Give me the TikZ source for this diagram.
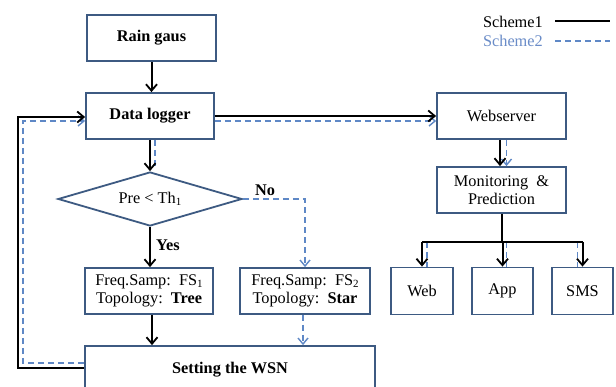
\documentclass[tikz,border=0pt]{standalone}
\usepackage{fontspec}
\setmainfont{Liberation Serif}
\usetikzlibrary{arrows.meta,shapes.geometric}
\definecolor{boxc}{HTML}{3D5A82}
\definecolor{schb}{HTML}{5F88C6}
\definecolor{legb}{HTML}{6A8CC8}
\newcommand{\lowidx}[1]{\raisebox{-0.25ex}{\fontsize{11}{12}\selectfont #1}}
\tikzset{
  txt/.style={font=\fontsize{16.3}{18.5}\selectfont},
  blk/.style={draw=boxc, line width=1.8pt, fill=white, align=center, inner sep=0pt, txt},
  sone/.style={line width=2pt, black},
  sonea/.style={sone, -{Straight Barb[length=6.5pt,width=11pt,line width=1.8pt]}},
  stwo/.style={line width=1.6pt, schb, dash pattern=on 6pt off 4pt},
  stwoa/.style={stwo, -{Straight Barb[length=6pt,width=10pt,line width=1.4pt]}},
  lbl/.style={txt, font=\fontsize{16.3}{18.5}\selectfont\bfseries, inner sep=0pt}
}
\begin{document}
\begin{tikzpicture}[x=1pt,y=-1pt]
\useasboundingbox (0,0) rectangle (616,387);
\clip (0,0) rectangle (616,387);
\fill[white] (0,0) rectangle (616,387);

% guides for the loop back and the output bus
\coordinate (lb) at (18,0);
\coordinate (ld) at (23,0);
\coordinate (bus) at (0,242);

% left column
\node[blk, minimum width=129pt, minimum height=46pt] (rain) at (151.5,38) {\textbf{Rain gaus}};
\node[blk, minimum width=128pt, minimum height=46pt] (logger) at (150,116) {\textbf{Data logger}};
\node[blk, diamond, aspect=3.4, minimum width=184pt, minimum height=54pt] (dec) at (150,199) {Pre < Th\lowidx{1}};
\node[blk, minimum width=128pt, minimum height=46pt] (fa) at (149,291)
  {Freq.Samp:\ \ FS\lowidx{1}\\Topology:\ \ \textbf{Tree}};
\node[blk, minimum width=130pt, minimum height=46pt] (fb) at (305,291)
  {Freq.Samp:\ \ FS\lowidx{2}\\Topology:\ \ \textbf{Star}};
\node[blk, minimum width=290pt, minimum height=48pt] (wsn) at (230,370) {\textbf{Setting the WSN}};

% right column
\node[blk, minimum width=129pt, minimum height=46pt] (srv) at (501.5,116) {Webserver};
\node[blk, minimum width=129pt, minimum height=46pt] (mon) at (501.5,190) {Monitoring\ \ \&\\Prediction};
\node[blk, minimum width=62pt, minimum height=47pt] (web) at (422,291) {Web};
\node[blk, minimum width=61pt, minimum height=47pt] (app) at (502.5,291) {App};
\node[blk, minimum width=61pt, minimum height=47pt] (sms) at (582.5,291) {SMS};

% entry and exit points of the two return loops
\coordinate (lgA) at ([yshift=-1pt]logger.west);
\coordinate (lgB) at ([yshift=-5pt]logger.west);
\coordinate (wsA) at ([yshift=2pt]wsn.west);
\coordinate (wsB) at ([yshift=7pt]wsn.west);

% scheme 2 (dashed)
\draw[stwo] ([xshift=5pt]logger.south) -- ++(0,27);
\draw[stwoa] ([yshift=-5pt]logger.east) -- ([yshift=-5pt]srv.west);
\draw[stwoa] (dec.east) -| (fb.north);
\draw[stwoa] ([xshift=-2pt]fb.south) -- ([xshift=-2pt]fb.south |- wsn.north);
\draw[stwoa] (wsB) -- (wsB -| ld) -- (ld |- lgB) -- (lgB);
\draw[stwoa] ([xshift=5pt]srv.south) -- ([xshift=5pt]mon.north);
\draw[stwo] ([xshift=5pt]web.north |- bus) -- ([xshift=5pt]web.north);
\draw[stwo] ([xshift=4pt]app.north |- bus) -- ([xshift=4pt]app.north);
\draw[stwo] ([xshift=-5pt]sms.north |- bus) -- ([xshift=-5pt]sms.north);

% scheme 1 (solid)
\draw[sonea] (rain.south) -- (rain.south |- logger.north);
\draw[sonea] (logger.south) -- (dec.north);
\draw[sonea] (logger.east) -- (srv.west);
\draw[sonea] (dec.south) -- (dec.south |- fa.north);
\draw[sonea] ([xshift=3pt]fa.south) -- ([xshift=3pt]fa.south |- wsn.north);
\draw[sonea] (wsA) -- (wsA -| lb) -- (lb |- lgA) -- (lgA);
\draw[sonea] ([xshift=-1.5pt]srv.south) -- ([xshift=-1.5pt]mon.north);
\draw[sone] (mon.south) -- (mon.south |- bus);
\draw[sone] (web.north |- bus) -- (sms.north |- bus);
\draw[sonea] (web.north |- bus) -- (web.north);
\draw[sonea] (app.north |- bus) -- (app.north);
\draw[sonea] (sms.north |- bus) -- (sms.north);

% branch labels
\node[lbl] (yes) at (168,245) {Yes};
\node[lbl] (no) at (265,190) {No};

% legend
\node[anchor=east, inner sep=0pt, txt] (la) at (543,22) {Scheme1};
\node[anchor=east, inner sep=0pt, txt, text=legb] (lc) at (543,41) {Scheme2};
\coordinate (la1) at (555,21);
\coordinate (la2) at (610,21);
\coordinate (lc1) at (555,41);
\coordinate (lc2) at (610,41);
\draw[sone] (la1) -- (la2);
\draw[stwo] (lc1) -- (lc2);
\end{tikzpicture}
\end{document}
